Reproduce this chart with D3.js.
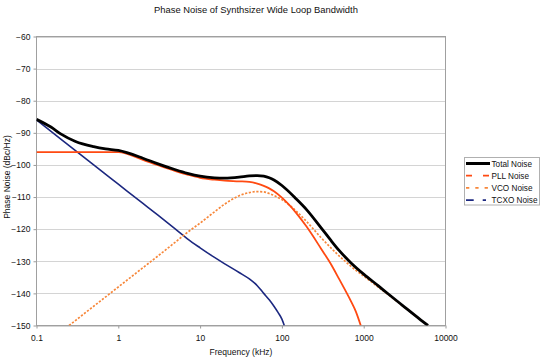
<!DOCTYPE html>
<html><head><meta charset="utf-8">
<script src="https://cdn.jsdelivr.net/npm/d3@7"></script>
<style>
html,body{margin:0;padding:0;background:#fff;}
svg{display:block;font-family:"Liberation Sans",Arial,Helvetica,sans-serif;}
</style></head>
<body><svg id="c" width="550" height="358"></svg>
<script>
// ---- data (frequency in kHz, phase noise in dBc/Hz) ----
const title = "Phase Noise of Synthsizer Wide Loop Bandwidth";
const xTicks = [0.1, 1, 10, 100, 1000, 10000];
const xTickLabels = ["0.1", "1", "10", "100", "1000", "10000"];
const yTicks = [-60, -70, -80, -90, -100, -110, -120, -130, -140, -150];
const seriesNames = ["Total Noise", "PLL Noise", "VCO Noise", "TCXO Noise"];

const totalFreq  = [0.1, 0.15, 0.2, 0.3, 0.5, 0.7, 1, 2, 3, 5, 7, 10, 15, 20, 30, 40, 50, 60, 70, 80, 100, 150, 200, 300, 400, 500, 700, 1000, 1500, 2000, 3000, 5000, 6100];
const totalNoise = [-85.8, -88.2, -90.4, -92.7, -94.3, -95.0, -95.5, -97.9, -99.6, -101.5, -102.6, -103.5, -104.0, -104.1, -103.8, -103.4, -103.3, -103.5, -104.0, -104.7, -106.4, -110.6, -113.9, -119.5, -123.6, -126.6, -130.5, -134.0, -137.6, -140.2, -143.8, -148.3, -150];

const pllFreq  = [0.1, 0.5, 1, 2, 3, 5, 7, 10, 15, 20, 30, 40, 50, 60, 70, 80, 100, 150, 200, 300, 400, 500, 700, 800, 920];
const pllNoise = [-96, -96, -96, -98.4, -100.0, -101.9, -103.0, -104.0, -104.6, -104.9, -105.1, -105.3, -105.8, -106.5, -107.3, -108.2, -110.2, -115.0, -119.2, -126.0, -131.0, -135.5, -142.5, -145.6, -150];

const vcoFreq  = [0.25, 0.5, 1, 2, 3, 5, 7, 10, 15, 20, 30, 40, 50, 60, 70, 80, 100, 150, 200, 300, 400, 500, 700, 1000, 1500, 2000, 3000, 5000, 6100];
const vcoNoise = [-150, -144, -138, -132, -128.5, -124, -121, -118.1, -114.6, -112.2, -109.6, -108.6, -108.3, -108.4, -108.9, -109.5, -110.8, -114.4, -117.6, -122.6, -125.9, -128.3, -131.6, -134.6, -138.0, -140.4, -143.9, -148.3, -150];

const tcxoFreq  = [0.1, 0.2, 0.5, 1, 2, 3, 5, 7, 10, 15, 20, 30, 40, 50, 60, 70, 80, 90, 100, 107];
const tcxoNoise = [-86, -92, -100, -106, -112, -115.5, -120, -123, -125.8, -128.8, -130.8, -133.5, -135.5, -137.6, -140.0, -142.0, -144.0, -146.0, -148.0, -150];

// ---- layout ----
const svg = d3.select("#c");
const L = 36.5, R = 445.5, T = 36.5, B = 325.5;
const x = d3.scaleLog().domain([0.1, 10000]).range([L, R]);
const y = d3.scaleLinear().domain([-150, -60]).range([B, T]);

const colors = ["#000000", "#ff4a12", "#f7873a", "#1c2880"];

// title
svg.append("text").attr("x", 256).attr("y", 12.5).attr("text-anchor", "middle")
  .attr("font-size", 9.4).attr("fill", "#111").text(title);

// gridlines
svg.append("g").selectAll("line").data(yTicks).join("line")
  .attr("x1", L).attr("x2", R)
  .attr("y1", d => Math.round(y(d)) + 0.5).attr("y2", d => Math.round(y(d)) + 0.5)
  .attr("stroke", "#d4d4d4").attr("stroke-width", 1);

// y axis
const yAxis = d3.axisLeft(y).tickValues(yTicks).tickSize(3).tickPadding(3).tickFormat(d3.format("d"));
const gy = svg.append("g").attr("transform", `translate(${L},0)`).call(yAxis);
gy.select(".domain").remove();
gy.selectAll(".tick line").attr("stroke", "#9a9a9a");
gy.selectAll(".tick text").attr("font-size", 8.5).attr("fill", "#111")
  .attr("font-family", "Liberation Sans, Arial, sans-serif");

// x axis
const xAxis = d3.axisBottom(x).tickValues(xTicks).tickSize(3).tickPadding(6)
  .tickFormat((d, i) => xTickLabels[i]);
const gx = svg.append("g").attr("transform", `translate(0,${B})`).call(xAxis);
gx.select(".domain").remove();
gx.selectAll(".tick line").attr("stroke", "#9a9a9a");
gx.selectAll(".tick text").attr("font-size", 8.5).attr("fill", "#111")
  .attr("font-family", "Liberation Sans, Arial, sans-serif");

// plot frame
svg.append("rect").attr("x", L).attr("y", T).attr("width", R - L).attr("height", B - T)
  .attr("fill", "none").attr("stroke", "#a0a0a0").attr("stroke-width", 1);

// axis titles
svg.append("text").attr("x", (L + R) / 2).attr("y", 355).attr("text-anchor", "middle")
  .attr("font-size", 8.5).attr("fill", "#111").text("Frequency (kHz)");
svg.append("text").attr("transform", `translate(9.5,${(T + B) / 2 - 4}) rotate(-90)`)
  .attr("text-anchor", "middle").attr("font-size", 8.5).attr("fill", "#111")
  .text("Phase Noise (dBc/Hz)");

// clip
svg.append("clipPath").attr("id", "pc").append("rect")
  .attr("x", L).attr("y", T - 2).attr("width", R - L).attr("height", B - T + 2);

const line = d3.line().x(d => x(d[0])).y(d => y(d[1])).curve(d3.curveMonotoneX);
const zip = (f, v) => f.map((q, i) => [q, v[i]]);

const series = [
  {data: zip(tcxoFreq, tcxoNoise), c: colors[3], w: 1.6, dash: null},
  {data: zip(vcoFreq, vcoNoise), c: colors[2], w: 1.7, dash: "2.2,1.6"},
  {data: zip(pllFreq, pllNoise), c: colors[1], w: 1.8, dash: null},
  {data: zip(totalFreq, totalNoise), c: colors[0], w: 2.8, dash: null}
];
const gp = svg.append("g").attr("clip-path", "url(#pc)");
series.forEach(s => {
  gp.append("path").datum(s.data).attr("d", line).attr("fill", "none")
    .attr("stroke", s.c).attr("stroke-width", s.w)
    .attr("stroke-dasharray", s.dash).attr("stroke-linejoin", "round");
});

// legend
const lg = svg.append("g");
lg.append("rect").attr("x", 464.5).attr("y", 157.5).attr("width", 75).attr("height", 47.5)
  .attr("fill", "#fff").attr("stroke", "#b0b0b0").attr("stroke-width", 1);
const legDash = [null, "6,11", "3.3,6", "7.7,9,3.3,20"];
const legW = [3, 1.8, 1.8, 1.8];
seriesNames.forEach((n, i) => {
  const yy = 163.5 + i * 12.2;
  lg.append("line").attr("x1", 466).attr("x2", 490).attr("y1", yy).attr("y2", yy)
    .attr("stroke", colors[i]).attr("stroke-width", legW[i]).attr("stroke-dasharray", legDash[i]);
  lg.append("text").attr("x", 491.5).attr("y", yy + 3).attr("font-size", 8.2)
    .attr("fill", "#111").text(n);
});
</script></body></html>
